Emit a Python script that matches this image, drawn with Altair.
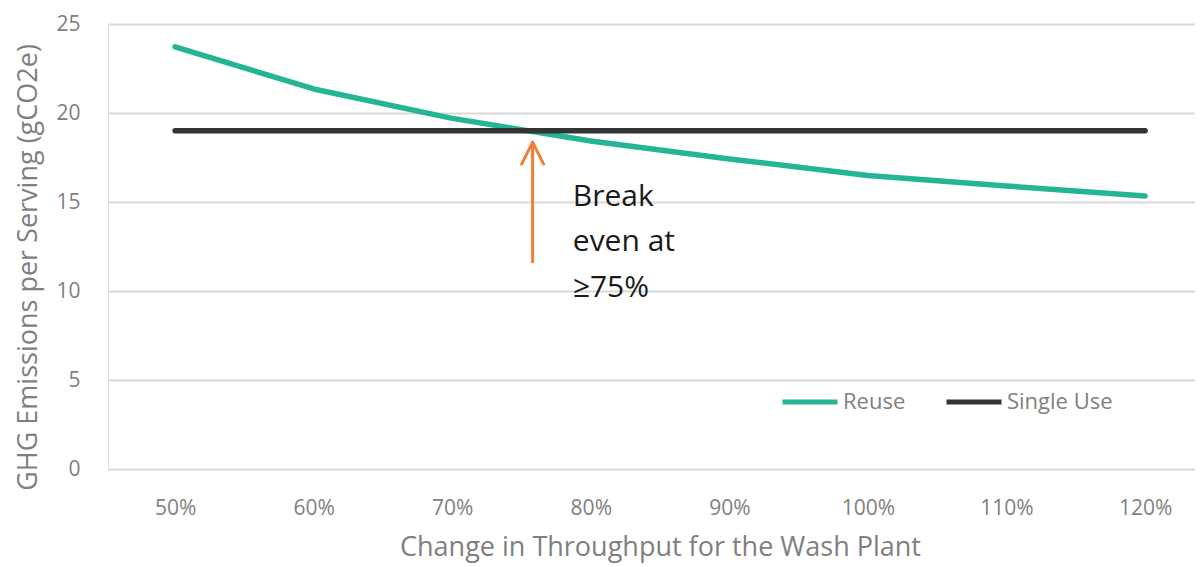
import altair as alt
import pandas as pd

# ---- data ----
throughput = [50, 60, 70, 80, 90, 100, 110, 120]
reuse = [23.72, 21.35, 19.70, 18.43, 17.42, 16.49, 15.90, 15.34]
single_use = [19.0, 19.0, 19.0, 19.0, 19.0, 19.0, 19.0, 19.0]
series_names = ["Reuse", "Single Use"]
series_colors = ["#26B497", "#333333"]

arrow_x = [75.8]
arrow_y_start = [11.57]
arrow_y_end = [18.37]
arrow_head_y = [17.75]

note_lines = ["Break", "even at", "\u226575%"]
note_x = [78.7, 78.7, 78.7]
note_y = [15.28, 12.75, 10.17]

FONT = "Open Sans"
GRAY = "#7f7f7f"

rows = []
for t, r, s in zip(throughput, reuse, single_use):
    rows.append({"x": t, "y": r, "series": "Reuse"})
    rows.append({"x": t, "y": s, "series": "Single Use"})
df = pd.DataFrame(rows)

x_scale = alt.Scale(domain=[45.16, 123.6], nice=False, zero=False)
y_scale = alt.Scale(domain=[0, 25], nice=False)

x_axis = alt.Axis(
    values=throughput,
    labelExpr="datum.value + '%'",
    grid=False, domain=False, ticks=False,
    labelPadding=28, labelFontSize=21, labelColor=GRAY, labelFont=FONT,
    title="Change in Throughput for the Wash Plant",
    titleFontSize=27, titleFont=FONT, titleColor=GRAY, titleFontWeight="normal",
    titleX=552, titleY=78, titleBaseline="middle", titleAlign="center",
)
y_axis = alt.Axis(
    values=[0, 5, 10, 15, 20, 25],
    grid=True, gridColor="#d9d9d9", gridWidth=2,
    domain=False, ticks=False,
    labelPadding=28, labelFontSize=21, labelColor=GRAY, labelFont=FONT,
    title="GHG Emissions per Serving (gCO2e)",
    titleFontSize=27, titleFont=FONT, titleColor=GRAY, titleFontWeight="normal",
    titleX=-80, titleY=243, titleAngle=270, titleBaseline="middle", titleAlign="center",
)

lines = alt.Chart(df).mark_line(strokeWidth=5.5, strokeCap="round", strokeJoin="round").encode(
    x=alt.X("x:Q", scale=x_scale, axis=x_axis),
    y=alt.Y("y:Q", scale=y_scale, axis=y_axis),
    color=alt.Color(
        "series:N",
        scale=alt.Scale(domain=series_names, range=series_colors),
        legend=alt.Legend(
            title=None, orient="none", legendX=672, legendY=348,
            direction="horizontal", symbolType="stroke", symbolStrokeWidth=5,
            symbolSize=3025, labelFontSize=22, labelColor=GRAY, labelFont=FONT,
            labelOffset=3, columnPadding=30, padding=0,
        ),
    ),
    detail="series:N",
)

arrow_df = pd.DataFrame({"x": arrow_x, "y0": arrow_y_start, "y1": arrow_y_end, "yh": arrow_head_y})
arrow = alt.Chart(arrow_df).mark_rule(color="#F07F3C", strokeWidth=3).encode(
    x=alt.X("x:Q", scale=x_scale), y=alt.Y("y0:Q", scale=y_scale), y2="y1:Q"
)
head = alt.Chart(arrow_df).mark_point(
    shape="M-1,1L0,-1L1,1", size=484, filled=False, color="#F07F3C",
    strokeWidth=3, opacity=1, strokeCap="round", strokeJoin="round",
).encode(x=alt.X("x:Q", scale=x_scale), y=alt.Y("yh:Q", scale=y_scale))

note_df = pd.DataFrame({"x": note_x, "y": note_y, "text": note_lines})
note = alt.Chart(note_df).mark_text(
    align="left", baseline="middle", fontSize=30, font=FONT, color="#1a1a1a"
).encode(x=alt.X("x:Q", scale=x_scale), y=alt.Y("y:Q", scale=y_scale), text="text:N")

chart = alt.layer(lines, arrow, head, note).properties(
    width=1087, height=445,
    padding={"left": 100, "top": 16, "right": 0, "bottom": 96},
    autosize=alt.AutoSizeParams(type="none"),
).configure_view(stroke=None).configure(background="white")

chart.save("out.html", embed_options={"renderer": "svg", "actions": False})
